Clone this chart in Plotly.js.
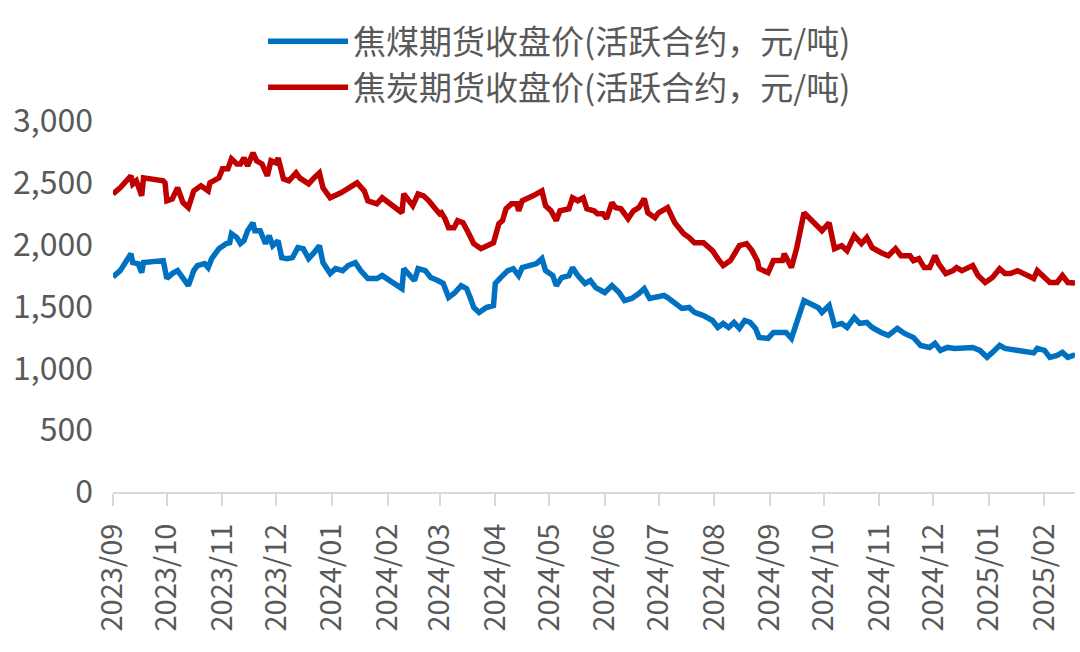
<!DOCTYPE html>
<html>
<head>
<meta charset="utf-8">
<script src="https://cdn.plot.ly/plotly-3.0.1.min.js"></script>
<style>
  html, body { margin: 0; padding: 0; background: #fff; }
  #chart { width: 1080px; height: 652px; }
</style>
</head>
<body>
<div id="chart"></div>
<script>
// 焦煤 (coking coal) futures close, active contract
const coalDates = [
  '2023-09-11','2023-09-15','2023-09-21','2023-09-22','2023-09-25','2023-09-27','2023-09-28',
  '2023-10-09','2023-10-11','2023-10-14','2023-10-17','2023-10-20','2023-10-23','2023-10-26','2023-10-28',
  '2023-11-01','2023-11-03','2023-11-05','2023-11-09','2023-11-13','2023-11-15','2023-11-16','2023-11-19',
  '2023-11-21','2023-11-23','2023-11-25','2023-11-28','2023-11-29','2023-12-02','2023-12-05','2023-12-07',
  '2023-12-09','2023-12-12','2023-12-14','2023-12-17','2023-12-20','2023-12-23','2023-12-26','2023-12-29',
  '2024-01-01','2024-01-04','2024-01-06','2024-01-10','2024-01-13','2024-01-17','2024-01-20','2024-01-24',
  '2024-01-27','2024-01-31','2024-02-05','2024-02-08','2024-02-19','2024-02-20','2024-02-26','2024-02-28',
  '2024-03-03','2024-03-06','2024-03-10','2024-03-13','2024-03-16','2024-03-19','2024-03-23','2024-03-26',
  '2024-03-28','2024-03-30','2024-04-02','2024-04-06','2024-04-10','2024-04-11','2024-04-14','2024-04-18',
  '2024-04-21','2024-04-24','2024-04-26','2024-04-30','2024-05-04','2024-05-07','2024-05-09','2024-05-13',
  '2024-05-15','2024-05-18','2024-05-22','2024-05-24','2024-05-27','2024-05-31','2024-06-03','2024-06-06',
  '2024-06-11','2024-06-15','2024-06-19','2024-06-22','2024-06-26','2024-06-30','2024-07-03','2024-07-06',
  '2024-07-10','2024-07-14','2024-07-16','2024-07-20','2024-07-24','2024-07-28','2024-07-31','2024-08-05',
  '2024-08-10','2024-08-13','2024-08-16','2024-08-19','2024-08-22','2024-08-25','2024-08-28','2024-08-31',
  '2024-09-03','2024-09-05','2024-09-10','2024-09-13','2024-09-19','2024-09-20','2024-09-23','2024-09-26',
  '2024-09-30','2024-10-08','2024-10-10','2024-10-14','2024-10-17','2024-10-21','2024-10-24','2024-10-28',
  '2024-10-31','2024-11-04','2024-11-07','2024-11-12','2024-11-16','2024-11-21','2024-11-25','2024-11-30',
  '2024-12-04','2024-12-09','2024-12-12','2024-12-15','2024-12-19','2024-12-23','2024-12-28','2025-01-02',
  '2025-01-06','2025-01-10','2025-01-13','2025-01-17','2025-01-20','2025-01-27','2025-02-05','2025-02-07',
  '2025-02-11','2025-02-14','2025-02-18','2025-02-21','2025-02-24','2025-02-27','2025-02-28'
];
const coalClose = [
  1740,1790,1927,1855,1847,1774,1855,
  1871,1726,1766,1790,1726,1669,1790,1831,
  1847,1815,1887,1968,2008,2016,2089,2057,
  2008,2032,2113,2177,2113,2113,2008,2073,
  1992,2032,1895,1887,1895,1976,1968,1887,
  1935,1992,1855,1766,1806,1790,1831,1855,
  1790,1726,1726,1750,1645,1806,1710,1806,
  1790,1734,1710,1686,1573,1605,1669,1645,
  1573,1492,1452,1492,1508,1686,1734,1790,
  1806,1750,1815,1831,1847,1887,1790,1750,
  1669,1734,1750,1815,1750,1686,1710,1653,
  1613,1669,1613,1548,1565,1605,1645,1565,
  1573,1589,1573,1532,1484,1492,1452,1427,
  1387,1331,1363,1331,1371,1323,1387,1371,
  1323,1250,1242,1290,1282,1290,1242,1387,
  1548,1490,1452,1508,1347,1363,1331,1411,
  1363,1371,1331,1290,1266,1323,1282,1250,
  1185,1169,1202,1145,1169,1161,1161,1169,
  1145,1089,1129,1185,1161,1145,1125,1161,
  1145,1089,1105,1129,1089,1105,1100
];

// 焦炭 (coke) futures close, active contract
const cokeDates = [
  '2023-09-11','2023-09-15','2023-09-21','2023-09-22','2023-09-24','2023-09-27','2023-09-28',
  '2023-10-09','2023-10-10','2023-10-11','2023-10-14','2023-10-17','2023-10-20','2023-10-23','2023-10-26',
  '2023-10-30','2023-11-03','2023-11-04','2023-11-09','2023-11-11','2023-11-14','2023-11-16','2023-11-19',
  '2023-11-21','2023-11-23','2023-11-25','2023-11-28','2023-11-30','2023-12-03','2023-12-06','2023-12-08',
  '2023-12-11','2023-12-12','2023-12-15','2023-12-18','2023-12-22','2023-12-24','2023-12-29','2024-01-01',
  '2024-01-04','2024-01-06','2024-01-10','2024-01-16','2024-01-20','2024-01-25','2024-01-29','2024-01-31',
  '2024-02-05','2024-02-08','2024-02-19','2024-02-20','2024-02-25','2024-02-28','2024-03-02','2024-03-05',
  '2024-03-08','2024-03-11','2024-03-12','2024-03-14','2024-03-16','2024-03-19','2024-03-21','2024-03-24',
  '2024-03-27','2024-03-30','2024-04-03','2024-04-07','2024-04-10','2024-04-13','2024-04-15','2024-04-17',
  '2024-04-20','2024-04-23','2024-04-24','2024-04-26','2024-04-29','2024-05-02','2024-05-04','2024-05-07',
  '2024-05-09','2024-05-12','2024-05-15','2024-05-17','2024-05-22','2024-05-24','2024-05-27','2024-05-30',
  '2024-06-01','2024-06-05','2024-06-07','2024-06-10','2024-06-12','2024-06-15','2024-06-17','2024-06-20',
  '2024-06-24','2024-06-27','2024-06-30','2024-07-03','2024-07-05','2024-07-09','2024-07-11','2024-07-16',
  '2024-07-20','2024-07-25','2024-07-28','2024-07-31','2024-08-05','2024-08-10','2024-08-13','2024-08-16',
  '2024-08-20','2024-08-22','2024-08-25','2024-08-29','2024-09-01','2024-09-04','2024-09-05','2024-09-10',
  '2024-09-13','2024-09-18','2024-09-19','2024-09-23','2024-09-26','2024-09-30','2024-10-08','2024-10-10',
  '2024-10-14','2024-10-17','2024-10-21','2024-10-24','2024-10-28','2024-11-01','2024-11-04','2024-11-07',
  '2024-11-12','2024-11-16','2024-11-20','2024-11-23','2024-11-28','2024-11-30','2024-12-03','2024-12-06',
  '2024-12-09','2024-12-12','2024-12-14','2024-12-18','2024-12-22','2024-12-24','2024-12-27','2025-01-02',
  '2025-01-05','2025-01-09','2025-01-13','2025-01-17','2025-01-20','2025-01-23','2025-01-27','2025-02-05',
  '2025-02-07','2025-02-11','2025-02-14','2025-02-18','2025-02-21','2025-02-24','2025-02-27','2025-02-28'
];
const cokeClose = [
  2410,2460,2557,2490,2516,2395,2540,
  2516,2500,2355,2370,2460,2340,2300,2435,
  2476,2435,2500,2540,2613,2613,2694,2653,
  2653,2702,2637,2742,2678,2653,2557,2678,
  2661,2702,2532,2516,2580,2540,2492,2540,
  2580,2460,2379,2420,2452,2500,2435,2355,
  2330,2379,2258,2411,2315,2411,2395,2355,
  2300,2250,2258,2210,2137,2137,2194,2177,
  2097,2008,1968,1992,2016,2169,2194,2290,
  2330,2330,2274,2355,2371,2395,2411,2435,
  2315,2274,2194,2274,2290,2379,2355,2379,
  2290,2274,2250,2250,2210,2339,2300,2290,
  2210,2274,2300,2371,2258,2218,2258,2300,
  2177,2089,2057,2016,2016,1952,1887,1831,
  1871,1927,1992,2008,1952,1871,1806,1774,
  1871,1871,1927,1815,1976,2258,2150,2113,
  2177,1968,1992,1952,2073,2008,2057,1976,
  1935,1911,1968,1911,1911,1871,1887,1815,
  1815,1911,1847,1766,1790,1815,1790,1831,
  1750,1694,1734,1806,1766,1766,1790,1726,
  1790,1734,1694,1694,1750,1694,1686,1690
];

const coalName = '焦煤期货收盘价(活跃合约，元/吨)';
const cokeName = '焦炭期货收盘价(活跃合约，元/吨)';

const font = '"Noto Sans CJK SC", "Noto Sans", sans-serif';

const traces = [
  {
    x: coalDates, y: coalClose, name: coalName,
    type: 'scatter', mode: 'lines',
    line: { color: '#0070C0', width: 5.5 }
  },
  {
    x: cokeDates, y: cokeClose, name: cokeName,
    type: 'scatter', mode: 'lines',
    line: { color: '#C00000', width: 5.5 }
  }
];

const layout = {
  width: 1080,
  height: 652,
  margin: { l: 113, r: 5, t: 121, b: 160 },
  paper_bgcolor: '#fff',
  plot_bgcolor: '#fff',
  font: { family: font, color: '#595959', size: 32 },
  showlegend: true,
  legend: {
    x: 0.156, xanchor: 'left',
    y: 1.29, yanchor: 'top',
    orientation: 'v',
    itemwidth: 80,
    bgcolor: 'rgba(0,0,0,0)',
    font: { family: font, size: 33, color: '#595959' }
  },
  xaxis: {
    type: 'date',
    range: ['2023-09-11', '2025-02-28'],
    tick0: '2023-09-11',
    dtick: 'M1',
    tickformat: '%Y/%m',
    tickangle: -90,
    ticks: 'outside',
    ticklen: 12,
    tickwidth: 2,
    tickcolor: '#d9d9d9',
    showline: true,
    linecolor: '#d9d9d9',
    linewidth: 2,
    showgrid: false,
    zeroline: false,
    ticklabelstandoff: 6,
    tickfont: { family: font, size: 29, color: '#595959' }
  },
  yaxis: {
    range: [0, 3000],
    dtick: 500,
    tickformat: ',',
    showgrid: false,
    zeroline: false,
    showline: false,
    ticks: '',
    ticklabelstandoff: 19,
    tickfont: { family: font, size: 32, color: '#595959' }
  }
};

Plotly.newPlot('chart', traces, layout, { staticPlot: true, displayModeBar: false });
</script>
</body>
</html>
